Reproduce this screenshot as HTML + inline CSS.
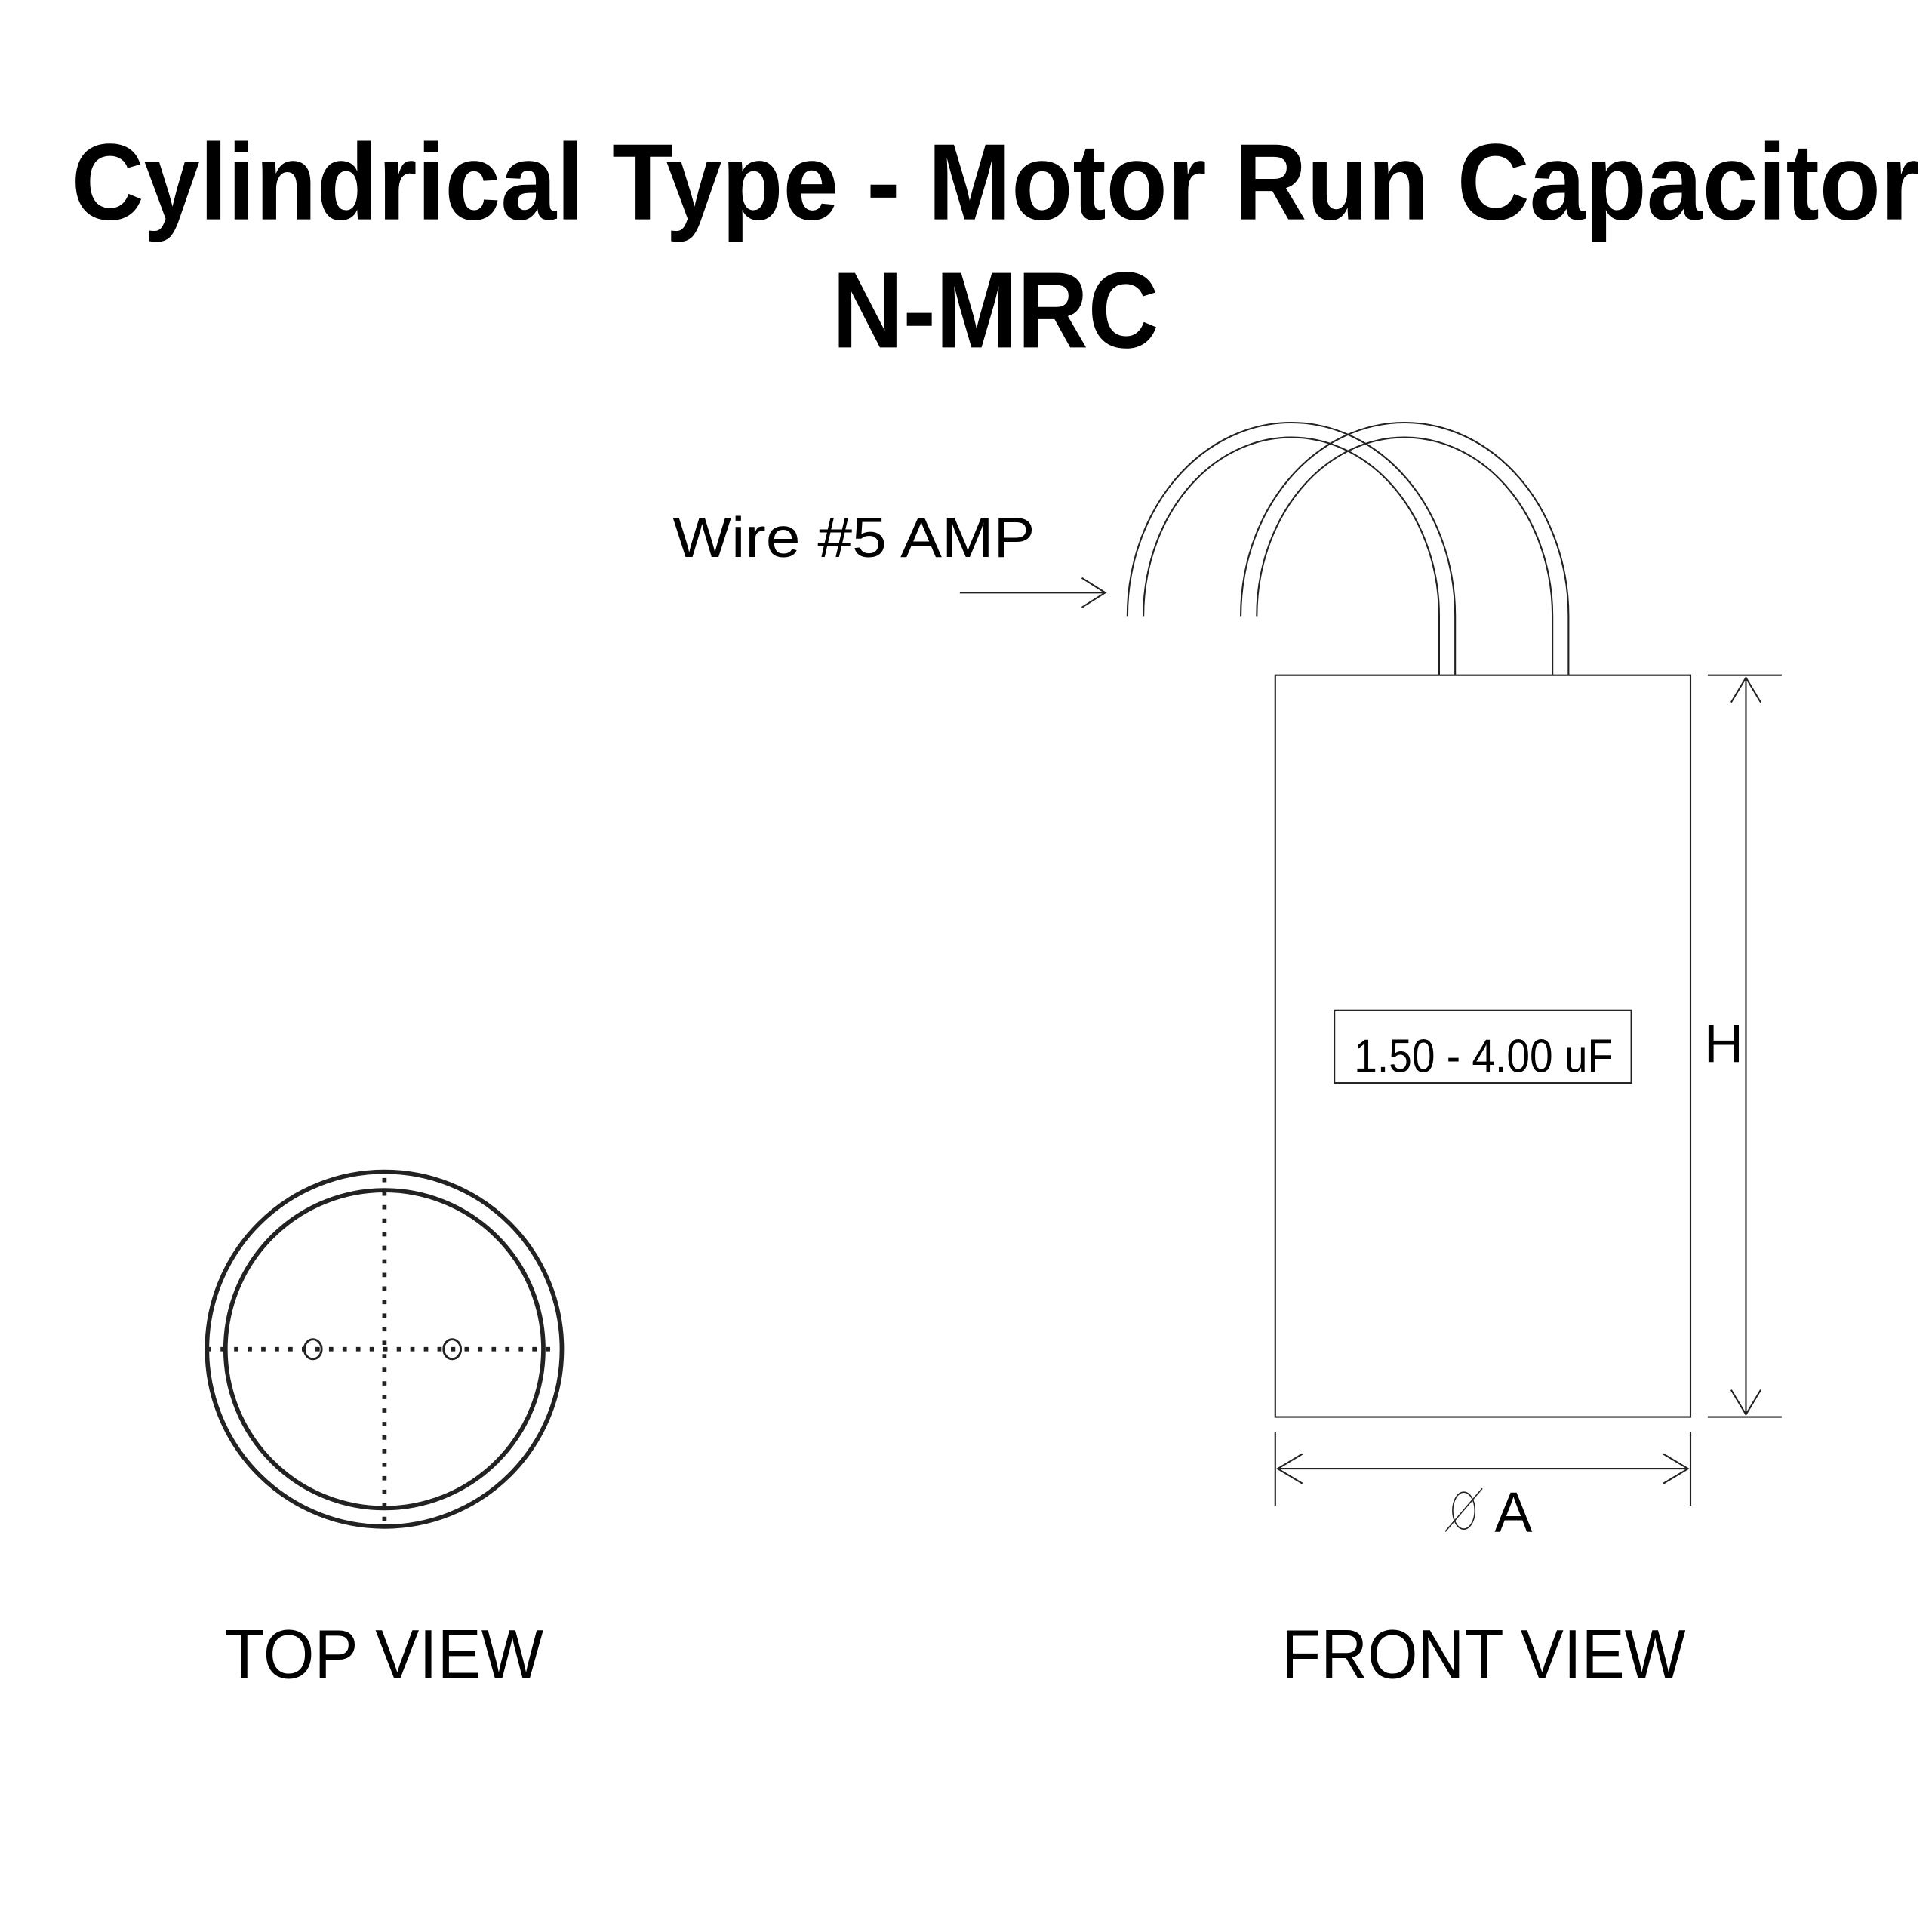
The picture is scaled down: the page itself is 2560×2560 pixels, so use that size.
<!DOCTYPE html>
<html><head><meta charset="utf-8"><style>html,body{margin:0;padding:0;background:#fff}svg{display:block}</style></head>
<body>
<svg width="2560" height="2560" viewBox="0 0 1568 1568" xmlns="http://www.w3.org/2000/svg">
<rect width="1568" height="1568" fill="#fff"/>
<g font-family="Liberation Sans, sans-serif" fill="#000">
<text x="808" y="178" text-anchor="middle" font-size="88" font-weight="bold" textLength="1500" lengthAdjust="spacingAndGlyphs">Cylindrical Type - Motor Run Capacitor</text>
<text x="808" y="282" text-anchor="middle" font-size="88" font-weight="bold" textLength="265" lengthAdjust="spacingAndGlyphs">N-MRC</text>
<text x="546" y="452" font-size="46" textLength="294" lengthAdjust="spacingAndGlyphs">Wire #5 AMP</text>
<text x="1204" y="870" text-anchor="middle" font-size="38" textLength="210" lengthAdjust="spacingAndGlyphs">1.50 - 4.00 uF</text>
<text x="1383" y="862" font-size="44">H</text>
<text x="1213" y="1243" font-size="46">A</text>
<text x="182" y="1362" font-size="56" textLength="259" lengthAdjust="spacingAndGlyphs">TOP VIEW</text>
<text x="1040" y="1362" font-size="56" textLength="328" lengthAdjust="spacingAndGlyphs">FRONT VIEW</text>
</g>
<g fill="none" stroke="#222" stroke-width="1.3">
<path d="M915 500 A133 157 0 0 1 1181 500 V548"/>
<path d="M928 500 A120 145 0 0 1 1168 500 V548"/>
<path d="M1007 500 A133 157 0 0 1 1273 500 V548"/>
<path d="M1020 500 A120 145 0 0 1 1260 500 V548"/>
<rect x="1035" y="548" width="337" height="602"/>
<rect x="1083" y="820" width="241" height="59"/>
<path d="M779 481 H897 M878 469 L897 481 L878 493"/>
<path d="M1386 548 H1446 M1386 1150 H1446 M1417 550 V1148 M1405 570 L1417 550 L1429 570 M1405 1128 L1417 1148 L1429 1128"/>
<path d="M1035 1162 V1222 M1372 1162 V1222 M1037 1192 H1370 M1057 1180 L1037 1192 L1057 1204 M1350 1180 L1370 1192 L1350 1204"/>
<ellipse cx="1188" cy="1226" rx="9" ry="15" stroke-width="1"/>
<path d="M1173 1243 L1203 1208" stroke-width="1"/>
</g>
<g fill="none" stroke="#222">
<circle cx="312" cy="1095" r="144" stroke-width="3.5"/>
<circle cx="312" cy="1095" r="129" stroke-width="3.5"/>
<path d="M312 956 V1240 M168 1095 H450" stroke-width="3.5" stroke-dasharray="3.5 7.5"/>
<ellipse cx="254" cy="1095" rx="7" ry="8" stroke-width="1.8"/>
<ellipse cx="367" cy="1095" rx="7" ry="8" stroke-width="1.8"/>
</g>
</svg>
</body></html>
